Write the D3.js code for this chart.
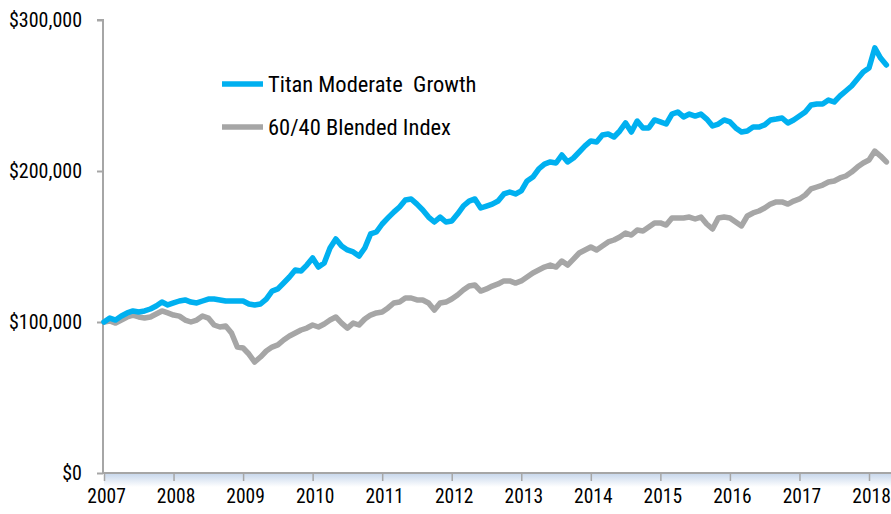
<!DOCTYPE html>
<html><head><meta charset="utf-8">
<script src="https://cdn.jsdelivr.net/npm/d3@7"></script>
<style>
html,body{margin:0;padding:0;background:#fff;}
svg{display:block;}
text{font-family:"Liberation Sans Narrow","Arial Narrow","Roboto Condensed",sans-serif;fill:#000;}
.leg{white-space:pre;}
</style></head>
<body>
<svg id="chart" width="891" height="514"></svg>
<script>
// Monthly values (thousands of dollars), end of month, starting Dec 2006 = 100
const startYear = 2007;
const seriesNames = ["Titan Moderate  Growth", "60/40 Blended Index"];
const titanValues = [
100,102.6,101.3,104,106,107.3,106.6,107.3,108.6,110.6,113.2,111.3,
112.6,113.9,114.6,113.2,112.6,113.9,115.2,115.2,114.6,113.9,113.9,113.9,
113.9,111.9,111.3,111.9,115.2,120.5,121.9,125.8,129.8,134.4,133.8,137.7,
142.4,136.4,139.1,149,155,150.3,147.7,146.4,143.7,149,158.3,159.6,
164.9,168.9,172.8,176.2,180.8,181.5,178.1,174.2,169.5,166.2,169.5,166.2,
166.9,171.5,176.8,180.1,181.5,175.5,176.8,178.1,180.1,184.8,186.1,184.8,
186.8,193.4,196,201.3,204.6,206,205.3,210.6,206,208.6,212.6,216.6,
219.9,219.2,223.8,224.5,222.5,226.5,231.8,225.8,233.1,228.5,228.5,233.8,
232.5,231.1,237.7,239.1,235.8,237.7,236.4,237.7,234.4,229.8,231.1,233.8,
232.5,228.5,225.8,226.5,229.1,229.1,230.5,233.8,234.4,235.1,231.8,233.8,
236.4,239.1,243.7,244.4,244.4,247,245.7,249.7,253,256.3,260.9,265.6,
268.2,281.5,274.8,270.2];
const blendedValues = [
100,100.7,99.3,101.3,103.3,104.6,103.3,102.6,103.3,105.3,107.3,106,
104.6,103.9,101.3,100,101.3,104,102.6,98,96.7,97.4,92.7,83.4,
82.8,78.8,73.5,76.8,80.8,83.4,84.8,88.1,90.7,92.7,94.7,96,
98,96.7,98.7,101.3,103.3,99.3,96,99.3,98,102,104.6,106,
106.6,109.3,112.6,113.2,115.9,115.9,114.6,114.6,112.6,107.9,112.6,113.2,
115.2,117.9,121.2,123.8,124.5,120.5,121.9,123.8,125.2,127.2,127.2,125.8,
127.2,129.8,132.5,134.4,136.4,137.7,136.4,140.4,137.7,141.7,145.7,147.7,
149.7,147.7,150.3,153,154.3,156.3,158.9,157.6,160.9,160.3,162.9,165.6,
165.6,164.2,168.9,168.9,168.9,169.5,168.2,169.5,164.9,161.6,168.9,169.5,
168.9,166.2,163.6,170.2,172.2,173.5,175.5,178.1,179.5,179.5,178.1,180.1,
181.5,184.1,188.1,189.4,190.7,192.7,193.4,195.4,196.7,199.3,202.6,205.3,
207.3,213.2,209.9,206];
const yTicks = [0, 100, 200, 300];
const yTickLabels = ["$0", "$100,000", "$200,000", "$300,000"];
const xTicks = [2007,2008,2009,2010,2011,2012,2013,2014,2015,2016,2017,2018];
const colors = ["#00b0f0", "#a6a6a6"];

const svg = d3.select("#chart");
const x = d3.scaleLinear().domain([2007, 2018]).range([104, 869]);
const y = d3.scaleLinear().domain([0, 300]).range([473, 20]);

// shadow under x axis
const defs = svg.append("defs");
const g = defs.append("linearGradient").attr("id","sh").attr("x1",0).attr("y1",0).attr("x2",0).attr("y2",1);
g.append("stop").attr("offset","0%").attr("stop-color","#c9d8ec");
g.append("stop").attr("offset","100%").attr("stop-color","#ffffff");
svg.append("rect").attr("x", 104).attr("y", y(0)+1).attr("width", 891-104).attr("height", 13).attr("fill","url(#sh)");

// y axis
const yAxis = d3.axisLeft(y).tickValues(yTicks).tickSize(6).tickFormat((d,i)=>yTickLabels[i]);
const ya = svg.append("g").attr("transform", `translate(${x(2007)-1},0)`).call(yAxis);
ya.select(".domain").attr("stroke","#a6a6a6").attr("stroke-width",2).attr("d", `M-6,${y(300)}H0V${y(0)}`);
ya.selectAll(".tick line").attr("stroke","#a6a6a6").attr("stroke-width",2);
ya.selectAll(".tick text").attr("x",-21).attr("font-size","20px").attr("font-family",null);

// x axis
const xAxis = d3.axisBottom(x).tickValues(xTicks).tickSize(8).tickFormat(d3.format("d"));
const xa = svg.append("g").attr("transform", `translate(0,${y(0)})`).call(xAxis);
xa.select(".domain").attr("stroke","#a6a6a6").attr("stroke-width",2).attr("d", `M${x(2007)-1},0H891`);
xa.selectAll(".tick line").attr("stroke","#a6a6a6").attr("stroke-width",1.5);
xa.selectAll(".tick text").attr("y",16).attr("dx",2).attr("font-size","19.5px").attr("font-family",null);
svg.selectAll(".tick text").attr("fill","#000");

// lines
const line = d3.line().x((d,i)=>x(startYear + i/12)).y(d=>y(d));
[blendedValues, titanValues].forEach((vals, k) => {
  svg.append("path").datum(vals).attr("d", line)
    .attr("fill","none").attr("stroke", k===0 ? colors[1] : colors[0])
    .attr("stroke-width",5.5).attr("stroke-linejoin","round").attr("stroke-linecap","round");
});

// legend
const legendY = [84, 127];
seriesNames.forEach((name, i) => {
  svg.append("line").attr("x1",222).attr("x2",263).attr("y1",legendY[i]).attr("y2",legendY[i])
    .attr("stroke",colors[i]).attr("stroke-width",5.5);
  svg.append("text").attr("class","leg").attr("x",268).attr("y",legendY[i]+8).attr("font-size","22.5px").text(name);
});
</script>
</body></html>
